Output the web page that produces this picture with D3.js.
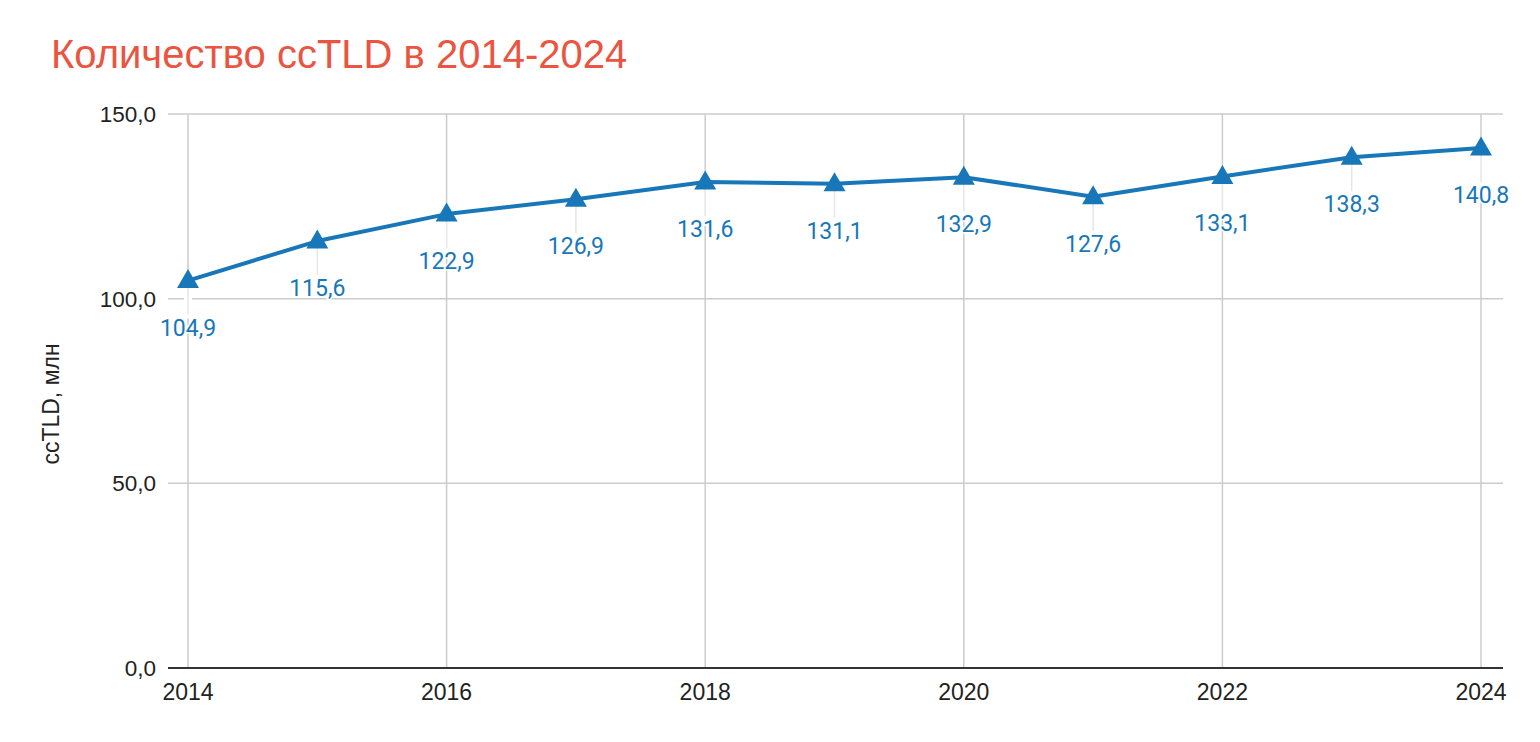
<!DOCTYPE html>
<html><head><meta charset="utf-8">
<script src="https://cdn.jsdelivr.net/npm/d3@7"></script>
<style>body{margin:0;background:#fff}svg{display:block}</style>
</head><body><svg id="c" width="1540" height="742"></svg>
<script>
const years = [2014,2015,2016,2017,2018,2019,2020,2021,2022,2023,2024];
const values = [104.9,115.6,122.9,126.9,131.6,131.1,132.9,127.6,133.1,138.3,140.8];
const yTicks = [0,50,100,150];
const xTicks = [2014,2016,2018,2020,2022,2024];
const title = "Количество ccTLD в 2014-2024";
const yTitle = "ccTLD, млн";

const svg = d3.select("#c");
const x = d3.scaleLinear().domain([2014,2024]).range([188,1481]);
const y = d3.scaleLinear().domain([0,150]).range([668,114]);
const fmt = v => d3.format(".1f")(v).replace(".", ",");
const blue = "#1877b8";
const arial = "Arial, 'Liberation Sans', sans-serif";

svg.append("text").attr("x",51).attr("y",68).attr("fill","#ea5440")
  .attr("font-family",arial).attr("font-size",40).text(title);

// horizontal gridlines
svg.append("g").selectAll("line").data(yTicks.filter(d=>d>0)).join("line")
  .attr("x1",168).attr("x2",1503).attr("y1",d=>y(d)).attr("y2",d=>y(d))
  .attr("stroke","#cccccc").attr("stroke-width",1.5);
// vertical gridlines
svg.append("g").selectAll("line").data(xTicks).join("line")
  .attr("x1",d=>x(d)).attr("x2",d=>x(d)).attr("y1",114).attr("y2",668)
  .attr("stroke","#cccccc").attr("stroke-width",1.5);

// y tick labels
svg.append("g").selectAll("text").data(yTicks).join("text")
  .attr("x",156).attr("y",d=>y(d)+8).attr("text-anchor","end")
  .attr("font-family",arial).attr("font-size",22.5).attr("fill","#222")
  .text(d=>fmt(d));
// x tick labels
svg.append("g").selectAll("text").data(xTicks).join("text")
  .attr("x",d=>x(d)).attr("y",700).attr("text-anchor","middle")
  .attr("font-family",arial).attr("font-size",23).attr("fill","#222")
  .text(d=>d);
// y title
svg.append("text").attr("transform","translate(59,404) rotate(-90)").attr("text-anchor","middle")
  .attr("font-family",arial).attr("font-size",23).attr("fill","#222")
  .text(yTitle);

// baseline
svg.append("line").attr("x1",168).attr("x2",1503).attr("y1",y(0)).attr("y2",y(0))
  .attr("stroke","#333").attr("stroke-width",2);

const pts = years.map((yr,i)=>({yr, v:values[i]}));
// label backgrounds & leaders
const lg = svg.append("g");
lg.selectAll("rect").data(pts).join("rect")
  .attr("x",d=>x(d.yr)-4).attr("y",d=>y(d.v)+8).attr("width",8).attr("height",30)
  .attr("fill","#fff");
lg.selectAll("line").data(pts).join("line")
  .attr("x1",d=>x(d.yr)).attr("x2",d=>x(d.yr)).attr("y1",d=>y(d.v)).attr("y2",d=>y(d.v)+34)
  .attr("stroke","#e6e6e6").attr("stroke-width",1.5);

// line
svg.append("path").datum(pts)
  .attr("d", d3.line().x(d=>x(d.yr)).y(d=>y(d.v)))
  .attr("fill","none").attr("stroke",blue).attr("stroke-width",4).attr("stroke-linejoin","round");
// markers
svg.append("g").selectAll("path").data(pts).join("path")
  .attr("transform",d=>`translate(${x(d.yr)},${y(d.v)})`)
  .attr("d","M0,-11.5 L11,7.5 L-11,7.5 Z").attr("fill",blue);
// labels
svg.append("g").selectAll("text").data(pts).join("text")
  .attr("x",d=>x(d.yr)).attr("y",d=>y(d.v)+55).attr("text-anchor","middle")
  .attr("font-family","Roboto, sans-serif").attr("font-size",23).attr("fill",blue)
  .attr("paint-order","stroke").attr("stroke","#fff").attr("stroke-width",3)
  .text(d=>fmt(d.v));
</script></body></html>
